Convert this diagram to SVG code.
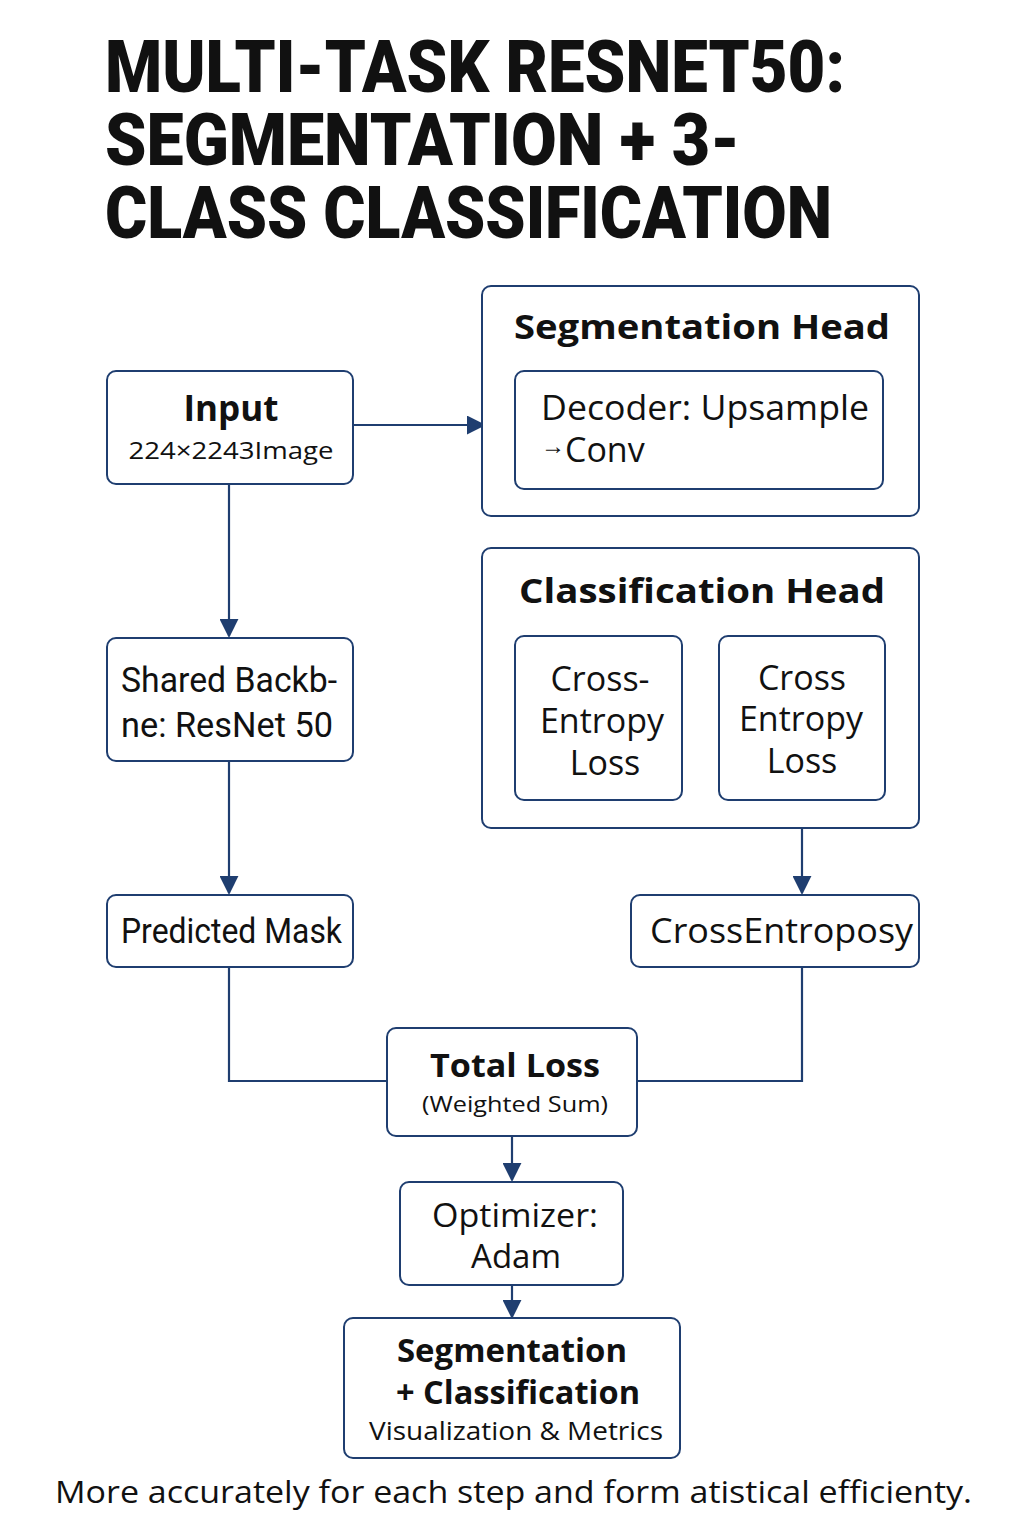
<svg xmlns="http://www.w3.org/2000/svg" width="1024" height="1536" viewBox="0 0 1024 1536">
<style>
.box{fill:#fff;stroke:#1f3e70;stroke-width:2}
.con{fill:none;stroke:#1f3e70;stroke-width:2.2}
.t{font-family:"Open Sans","Liberation Sans",sans-serif;fill:#111}
.b{font-weight:700}
.title{font-family:Roboto,"Liberation Sans",sans-serif;font-weight:900;font-size:73px;fill:#111}
.n{font-family:Roboto,"Liberation Sans",sans-serif;fill:#111}
</style>
<defs>
<marker id="ahl" viewBox="0 0 10 10" refX="9" refY="5" markerWidth="19" markerHeight="19" markerUnits="userSpaceOnUse" orient="auto">
<path d="M0,0 L10,5 L0,10 z" fill="#1f3e70"/>
</marker>
</defs>
<rect width="1024" height="1536" fill="#fff"/>
<g id="title">
<text class="title" x="105" y="92" textLength="740" lengthAdjust="spacingAndGlyphs">MULTI-TASK RESNET50:</text>
<text class="title" x="105" y="165" textLength="635" lengthAdjust="spacingAndGlyphs">SEGMENTATION + 3-</text>
<text class="title" x="105" y="238" textLength="727" lengthAdjust="spacingAndGlyphs">CLASS CLASSIFICATION</text>
</g>
<g id="connectors">
<line class="con" x1="353" y1="425" x2="484" y2="425" marker-end="url(#ahl)"/>
<line class="con" x1="229" y1="484" x2="229" y2="636" marker-end="url(#ahl)"/>
<line class="con" x1="229" y1="761" x2="229" y2="893" marker-end="url(#ahl)"/>
<line class="con" x1="682" y1="707" x2="718" y2="707" marker-end="url(#ahl)"/>
<line class="con" x1="802" y1="800" x2="802" y2="893" marker-end="url(#ahl)"/>
<polyline class="con" points="229,967 229,1081 387,1081"/>
<polyline class="con" points="802,967 802,1081 637,1081"/>
<line class="con" x1="512" y1="1136" x2="512" y2="1180" marker-end="url(#ahl)"/>
<line class="con" x1="512" y1="1285" x2="512" y2="1317" marker-end="url(#ahl)"/>
</g>
<g id="input">
<rect class="box" x="107" y="371" width="246" height="113" rx="9"/>
<text class="t b" x="231" y="421" font-size="35" text-anchor="middle">Input</text>
<text class="t" x="231" y="459" font-size="24" text-anchor="middle" textLength="205" lengthAdjust="spacingAndGlyphs">224×2243Image</text>
</g>
<g id="segmentation-head">
<rect class="box" x="482" y="286" width="437" height="230" rx="9"/>
<text class="t b" x="702" y="339" font-size="34" text-anchor="middle" textLength="376" lengthAdjust="spacingAndGlyphs">Segmentation Head</text>
</g>
<g id="decoder">
<rect class="box" x="515" y="371" width="368" height="118" rx="9"/>
<text class="t" x="541" y="420" font-size="34" textLength="328" lengthAdjust="spacingAndGlyphs">Decoder: Upsample</text>
<text class="t" x="541" y="462" font-size="34"><tspan font-size="24" dy="-8">→</tspan><tspan dy="8">Conv</tspan></text>
</g>
<g id="classification-head">
<rect class="box" x="482" y="548" width="437" height="280" rx="9"/>
<text class="t b" x="702" y="603" font-size="34" text-anchor="middle" textLength="366" lengthAdjust="spacingAndGlyphs">Classification Head</text>
</g>
<g id="ce-loss-1">
<rect class="box" x="515" y="636" width="167" height="164" rx="9"/>
<text class="t" x="600" y="691" font-size="34" text-anchor="middle">Cross-</text>
<text class="t" x="602" y="733" font-size="34" text-anchor="middle">Entropy</text>
<text class="t" x="605" y="775" font-size="34" text-anchor="middle">Loss</text>
</g>
<g id="ce-loss-2">
<rect class="box" x="719" y="636" width="166" height="164" rx="9"/>
<text class="t" x="802" y="690" font-size="34" text-anchor="middle">Cross</text>
<text class="t" x="801" y="731" font-size="34" text-anchor="middle">Entropy</text>
<text class="t" x="802" y="773" font-size="34" text-anchor="middle">Loss</text>
</g>
<g id="shared-backbone">
<rect class="box" x="107" y="638" width="246" height="123" rx="9"/>
<text class="n" x="121" y="692" font-size="35" textLength="216" lengthAdjust="spacingAndGlyphs">Shared Backb-</text>
<text class="n" x="121" y="737" font-size="35" textLength="212" lengthAdjust="spacingAndGlyphs">ne: ResNet 50</text>
</g>
<g id="predicted-mask">
<rect class="box" x="107" y="895" width="246" height="72" rx="9"/>
<text class="n" x="121" y="943" font-size="35" textLength="221" lengthAdjust="spacingAndGlyphs">Predicted Mask</text>
</g>
<g id="crossentropy">
<rect class="box" x="631" y="895" width="288" height="72" rx="9"/>
<text class="t" x="650" y="943" font-size="34" textLength="263" lengthAdjust="spacingAndGlyphs">CrossEntroposy</text>
</g>
<g id="total-loss">
<rect class="box" x="387" y="1028" width="250" height="108" rx="9"/>
<text class="t b" x="515" y="1077" font-size="32" text-anchor="middle" textLength="170" lengthAdjust="spacingAndGlyphs">Total Loss</text>
<text class="t" x="515" y="1112" font-size="22" text-anchor="middle" textLength="186" lengthAdjust="spacingAndGlyphs">(Weighted Sum)</text>
</g>
<g id="optimizer">
<rect class="box" x="400" y="1182" width="223" height="103" rx="9"/>
<text class="t" x="515" y="1227" font-size="32" text-anchor="middle" textLength="166" lengthAdjust="spacingAndGlyphs">Optimizer:</text>
<text class="t" x="516" y="1268" font-size="33" text-anchor="middle">Adam</text>
</g>
<g id="output">
<rect class="box" x="344" y="1318" width="336" height="140" rx="9"/>
<text class="t b" x="512" y="1362" font-size="32" text-anchor="middle" textLength="230" lengthAdjust="spacingAndGlyphs">Segmentation</text>
<text class="t b" x="518" y="1404" font-size="32" text-anchor="middle" textLength="244" lengthAdjust="spacingAndGlyphs">+ Classification</text>
<text class="t" x="516" y="1440" font-size="26" text-anchor="middle" textLength="294" lengthAdjust="spacingAndGlyphs">Visualization &amp; Metrics</text>
</g>
<g id="footer">
<text class="t" x="55" y="1503" font-size="31" textLength="917" lengthAdjust="spacingAndGlyphs">More accurately for each step and form atistical efficienty.</text>
</g>
</svg>
